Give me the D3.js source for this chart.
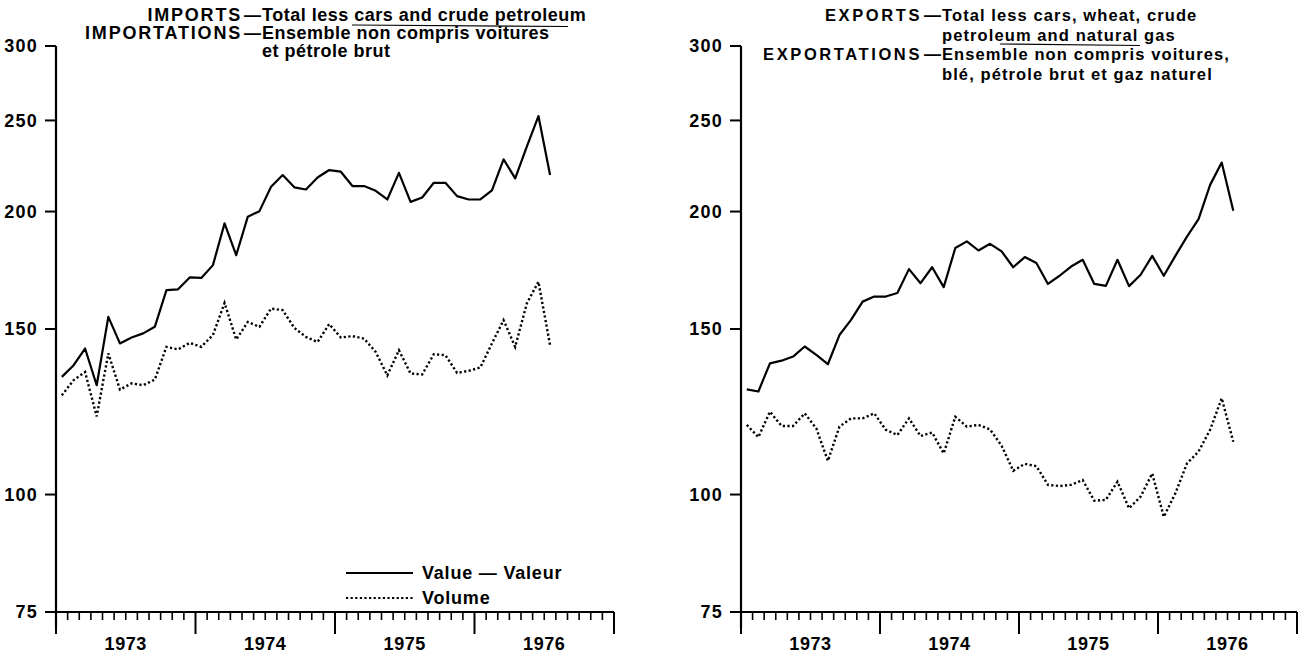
<!DOCTYPE html>
<html>
<head>
<meta charset="utf-8">
<script src="https://cdn.jsdelivr.net/npm/d3@7"></script>
<style>
  body { margin: 0; background: white; }
  svg text { font-family: "Liberation Sans", Arial, sans-serif; font-weight: bold; fill: black; }
</style>
</head>
<body>
<svg id="svgContainer"></svg>
<script>
// monthly data, Jan 1973 to Jul 1976
const years = ["1973", "1974", "1975", "1976"];
const yTicks = [75, 100, 150, 200, 250, 300];

const importsValue = [133.4, 137.2, 143.0, 130.7, 154.5, 144.8, 146.9, 148.4, 150.8, 165.0, 165.3, 170.2,
  170.0, 175.4, 194.3, 179.7, 197.5, 200.2, 212.5, 218.7, 212.2, 211.1, 217.4, 221.4,
  220.5, 212.9, 212.9, 210.4, 206.0, 219.9, 204.8, 207.0, 214.6, 214.6, 207.7, 206.0,
  206.0, 210.7, 227.3, 216.9, 234.4, 252.7, 218.7];
const importsVolume = [127.5, 132.3, 135.0, 121.1, 141.3, 129.3, 131.3, 130.7, 132.5, 143.6, 142.7, 145.0,
  143.6, 147.8, 159.9, 146.2, 152.6, 150.8, 157.7, 157.1, 150.4, 147.1, 145.3, 151.8,
  146.9, 147.4, 146.5, 141.8, 133.9, 142.4, 134.5, 134.2, 141.0, 140.7, 134.7, 135.4,
  136.5, 144.8, 153.3, 143.6, 159.7, 168.4, 144.2];
const exportsValue = [129.4, 128.7, 137.9, 138.8, 140.2, 143.7, 140.8, 137.6, 147.8, 153.4, 160.4, 162.4,
  162.4, 163.8, 173.7, 167.8, 174.5, 166.2, 182.9, 185.9, 181.8, 184.8, 181.4, 174.5,
  178.9, 176.3, 167.5, 170.9, 174.8, 177.7, 167.5, 166.7, 177.7, 166.6, 171.3, 179.4,
  170.9, 179.4, 188.1, 196.3, 213.5, 225.5, 200.4];
const exportsVolume = [118.6, 115.1, 122.5, 118.3, 118.3, 122.0, 117.6, 108.6, 118.1, 120.5, 120.5, 122.0,
  117.2, 115.7, 120.5, 115.4, 116.4, 110.6, 121.0, 118.1, 118.6, 117.3, 112.7, 106.0,
  107.8, 107.2, 102.4, 102.1, 102.4, 103.6, 98.5, 98.7, 103.2, 96.7, 99.5, 105.3,
  94.7, 100.3, 107.9, 111.1, 117.2, 126.6, 113.8];

const importsTitle = [["IMPORTS", "Total less cars and crude petroleum"],
                      ["IMPORTATIONS", "Ensemble non compris voitures"],
                      ["", "et pétrole brut"]];
const exportsTitle = [["EXPORTS", "Total less cars, wheat, crude"],
                      ["", "petroleum and natural gas"],
                      ["EXPORTATIONS", "Ensemble non compris voitures,"],
                      ["", "blé, pétrole brut et gaz naturel"]];

const svgWidth = 1303;
const svgHeight = 657;
const svg = d3.select("#svgContainer")
  .attr("width", svgWidth)
  .attr("height", svgHeight);

const yTop = 46, yBottom = 612;
const y = d3.scaleLog().domain([75, 300]).range([yBottom, yTop]);

function drawPanel(opts) {
  const x = d3.scaleLinear().domain([0, 48]).range([opts.x0, opts.x1]);
  const g = svg.append("g");

  // y axis line
  g.append("line")
    .attr("x1", opts.x0).attr("x2", opts.x0)
    .attr("y1", yTop).attr("y2", yBottom + 16)
    .attr("stroke", "black").attr("stroke-width", 2.2);

  // y ticks + labels
  g.selectAll(".ytick")
    .data(yTicks)
    .enter()
    .append("line")
    .attr("x1", opts.x0 - 11).attr("x2", opts.x0)
    .attr("y1", d => y(d)).attr("y2", d => y(d))
    .attr("stroke", "black").attr("stroke-width", 2);

  g.selectAll(".ylab")
    .data(yTicks)
    .enter()
    .append("text")
    .attr("x", opts.x0 - 18)
    .attr("y", d => y(d))
    .attr("dy", "0.36em")
    .attr("text-anchor", "end")
    .attr("font-size", 18)
    .attr("letter-spacing", 1.2)
    .text(d => d);

  // x axis line
  g.append("line")
    .attr("x1", opts.x0).attr("x2", opts.x1)
    .attr("y1", yBottom).attr("y2", yBottom)
    .attr("stroke", "black").attr("stroke-width", 2.2);

  // monthly ticks, longer at year boundaries
  g.selectAll(".xtick")
    .data(d3.range(0, 49))
    .enter()
    .append("line")
    .attr("x1", d => x(d)).attr("x2", d => x(d))
    .attr("y1", yBottom)
    .attr("y2", d => d % 12 === 0 ? yBottom + 22 : yBottom + 8)
    .attr("stroke", "black")
    .attr("stroke-width", d => d % 12 === 0 ? 2 : 1.6);

  g.selectAll(".xlab")
    .data(years)
    .enter()
    .append("text")
    .attr("x", (d, i) => x(i * 12 + 6))
    .attr("y", yBottom + 38)
    .attr("text-anchor", "middle")
    .attr("font-size", 18)
    .attr("letter-spacing", 0.6)
    .text(d => d);

  const line = d3.line()
    .x((d, i) => x(i + 0.5))
    .y(d => y(d));

  g.append("path")
    .datum(opts.value)
    .attr("d", line)
    .attr("fill", "none")
    .attr("stroke", "black")
    .attr("stroke-width", 2.2)
    .attr("stroke-linejoin", "round");

  g.append("path")
    .datum(opts.volume)
    .attr("d", line)
    .attr("fill", "none")
    .attr("stroke", "black")
    .attr("stroke-width", 2.4)
    .attr("stroke-dasharray", "2.2,2.4");

  // title block
  const fs = opts.titleSize;
  const rows = g.selectAll(".title")
    .data(opts.title)
    .enter()
    .append("g")
    .attr("transform", (d, i) => `translate(${opts.dashX}, ${opts.titleY[i]})`);

  rows.append("text")
    .attr("x", -10)
    .attr("text-anchor", "end")
    .attr("font-size", fs)
    .attr("letter-spacing", opts.capSpacing)
    .text(d => d[0]);

  rows.filter(d => d[0] !== "")
    .append("text")
    .attr("x", -8)
    .attr("font-size", 17)
    .text("—");

  rows.append("text")
    .attr("x", 10)
    .attr("font-size", fs)
    .attr("letter-spacing", opts.lowSpacing)
    .text(d => d[1]);

  // hand-drawn underline under part of the title
  g.append("line")
    .attr("x1", opts.under[0]).attr("x2", opts.under[1])
    .attr("y1", opts.under[2]).attr("y2", opts.under[2] + 1.5)
    .attr("stroke", "black").attr("stroke-width", 1.2);
}

drawPanel({
  x0: 56, x1: 614, dashX: 252,
  titleY: [21, 39, 57], titleSize: 18, capSpacing: 1.8, lowSpacing: 0.5,
  under: [352, 568, 25],
  value: importsValue, volume: importsVolume, title: importsTitle
});

drawPanel({
  x0: 741, x1: 1297, dashX: 932,
  titleY: [21, 40.5, 60, 79.5], titleSize: 16.5, capSpacing: 2.6, lowSpacing: 1.1,
  under: [1000, 1140, 44],
  value: exportsValue, volume: exportsVolume, title: exportsTitle
});

// legend, left panel
const legend = [["Value — Valeur", null], ["Volume", "2.2,2.4"]];
const leg = svg.selectAll(".legend")
  .data(legend)
  .enter()
  .append("g")
  .attr("transform", (d, i) => `translate(346, ${573 + i * 25})`);

leg.append("line")
  .attr("x1", 0).attr("x2", 67)
  .attr("stroke", "black")
  .attr("stroke-width", 2.2)
  .attr("stroke-dasharray", d => d[1]);

leg.append("text")
  .attr("x", 76)
  .attr("dy", "0.36em")
  .attr("font-size", 18)
  .attr("letter-spacing", 0.8)
  .text(d => d[0]);
</script>
</body>
</html>
